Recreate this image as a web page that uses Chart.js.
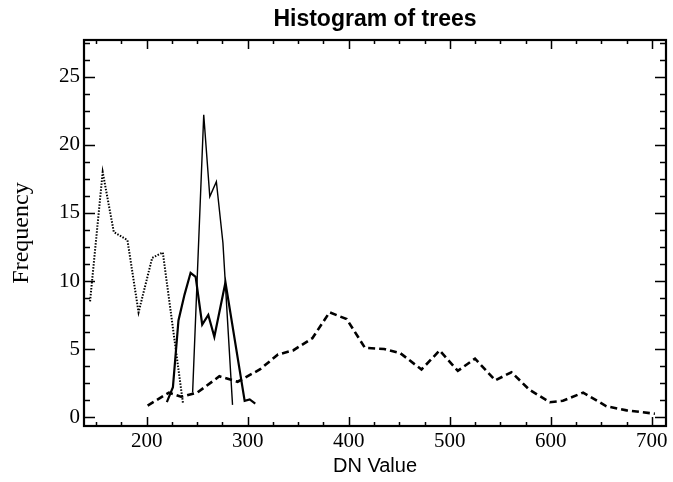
<!DOCTYPE html>
<html>
<head>
<meta charset="utf-8">
<script src="https://cdn.jsdelivr.net/npm/chart.js@4"></script>
<style>
  body { margin: 0; background: #fff; }
</style>
</head>
<body>
<canvas id="chart" width="673" height="482"></canvas>
<script>
// axis ranges and labelled ticks
const xRange = [138, 714]
const yRange = [-0.65, 27.7]
const xTickValues = [200, 300, 400, 500, 600, 700]
const yTickValues = [0, 5, 10, 15, 20, 25]

// dotted curve (left)
const dottedX = [144, 156.5, 167.5, 181, 192, 205.5, 216, 236]
const dottedY = [8.5, 18.0, 13.6, 13.0, 7.7, 11.7, 12.1, 1.0]

// thin solid curve (tall peak)
const thinX = [245.5, 256.5, 262.5, 269, 275.5, 285]
const thinY = [1.8, 22.2, 16.2, 17.3, 12.8, 0.9]

// heavier solid curve
const solidX = [220, 226, 231.5, 237.5, 243.5, 248.5, 255, 261, 267, 278, 297, 302, 307.5]
const solidY = [1.1, 2.2, 7.1, 9.0, 10.6, 10.3, 6.8, 7.5, 5.9, 9.9, 1.2, 1.3, 1.0]

// dashed curve (broad)
const dashedX = [201, 222, 234, 250, 272, 290, 312, 330, 345, 364, 381, 398, 416, 435, 451,
                 472, 490, 508, 525, 545, 561, 579, 599, 612, 632, 655, 675, 703]
const dashedY = [0.85, 1.8, 1.5, 1.8, 3.0, 2.6, 3.5, 4.6, 4.9, 5.8, 7.7, 7.2, 5.1, 5.0, 4.7,
                 3.5, 4.9, 3.4, 4.3, 2.7, 3.3, 2.0, 1.1, 1.2, 1.8, 0.8, 0.5, 0.25]

const toPoints = (xs, ys) => xs.map((x, i) => ({ x, y: ys[i] }))

const serif = 'Liberation Serif, Times New Roman, serif'
const sans = 'Liberation Sans, Arial, sans-serif'

// frame + inward ticks on all four sides, like the original plot
const frameTicks = {
  id: 'frameTicks',
  afterDatasetsDraw(chart) {
    const { ctx, chartArea: a, scales: { x, y } } = chart
    ctx.save()
    ctx.strokeStyle = '#000'
    ctx.lineWidth = 1.5
    ctx.beginPath()
    for (let v = 150; v <= xRange[1]; v += 25) {
      const px = Math.round(x.getPixelForValue(v)) + 0.5
      const len = v % 100 === 0 ? 9 : 4
      ctx.moveTo(px, a.bottom); ctx.lineTo(px, a.bottom - len)
      ctx.moveTo(px, a.top); ctx.lineTo(px, a.top + len)
    }
    for (let v = 0; v <= yRange[1]; v += 1.25) {
      const py = Math.round(y.getPixelForValue(v)) + 0.5
      const len = v % 5 === 0 ? 11 : 6
      ctx.moveTo(a.left, py); ctx.lineTo(a.left + len, py)
      ctx.moveTo(a.right, py); ctx.lineTo(a.right - len, py)
    }
    ctx.stroke()
    ctx.lineWidth = 2.2
    ctx.strokeRect(a.left, a.top, a.right - a.left, a.bottom - a.top)
    ctx.restore()
  }
}

new Chart(document.getElementById('chart'), {
  type: 'line',
  data: {
    datasets: [
      { data: toPoints(dottedX, dottedY), borderColor: '#000', borderWidth: 2, borderDash: [1.5, 1.5] },
      { data: toPoints(thinX, thinY), borderColor: '#000', borderWidth: 1.4 },
      { data: toPoints(solidX, solidY), borderColor: '#000', borderWidth: 2.2 },
      { data: toPoints(dashedX, dashedY), borderColor: '#000', borderWidth: 2.6, borderDash: [7, 4] }
    ]
  },
  options: {
    responsive: false,
    animation: false,
    devicePixelRatio: 1,
    layout: { padding: { left: 0, right: 7, top: 0, bottom: 0 } },
    elements: { point: { radius: 0 }, line: { tension: 0, fill: false } },
    plugins: {
      legend: { display: false },
      tooltip: { enabled: false },
      title: {
        display: true,
        text: 'Histogram of trees',
        color: '#000',
        fullSize: false,
        font: { family: sans, size: 23, weight: 'bold' },
        padding: { top: 5.5, bottom: 6.9 }
      }
    },
    scales: {
      x: {
        type: 'linear',
        min: xRange[0],
        max: xRange[1],
        afterBuildTicks: s => { s.ticks = xTickValues.map(v => ({ value: v })) },
        afterFit: s => { s.height = 56 },
        grid: { display: false, drawTicks: false },
        border: { display: false },
        ticks: { color: '#000', padding: 3, maxRotation: 0, font: { family: serif, size: 21 } },
        title: { display: true, text: 'DN Value', color: '#000', padding: { top: 0, bottom: 4 },
                 font: { family: sans, size: 20 } }
      },
      y: {
        type: 'linear',
        min: yRange[0],
        max: yRange[1],
        afterBuildTicks: s => { s.ticks = yTickValues.map(v => ({ value: v })) },
        afterFit: s => { s.width = 84 },
        grid: { display: false, drawTicks: false },
        border: { display: false },
        ticks: { color: '#000', padding: 4, font: { family: serif, size: 21 } },
        title: { display: true, text: 'Frequency', color: '#000', padding: { top: 7, bottom: 0 },
                 font: { family: serif, size: 24 } }
      }
    }
  },
  plugins: [frameTicks]
})
</script>
</body>
</html>
